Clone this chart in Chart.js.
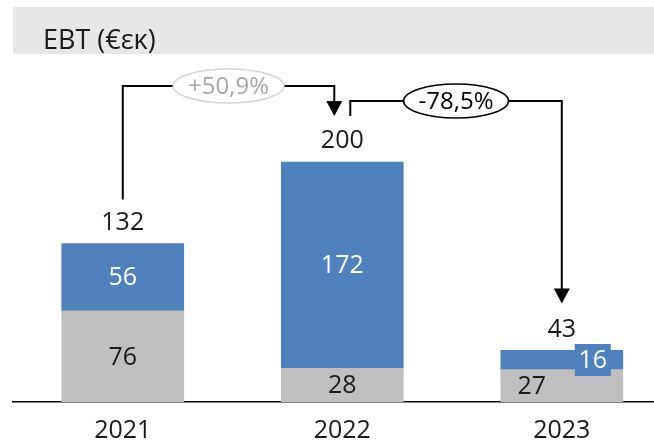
<!DOCTYPE html>
<html>
<head>
<meta charset="utf-8">
<script src="https://cdn.jsdelivr.net/npm/chart.js@4.4.1/dist/chart.umd.min.js"></script>
<style>
  html, body { margin: 0; padding: 0; background: #fff; overflow: hidden; }
  #wrap { width: 654px; height: 446px; }
</style>
</head>
<body>
<div id="wrap"><canvas id="ebtChart"></canvas></div>
<script>
// data
const years = ['2021', '2022', '2023'];
const baseValues = [76, 28, 27];
const topValues = [56, 172, 16];
const changeLabels = ['+50,9%', '-78,5%'];
const titleText = 'EBT (€εκ)';

const GRAY = '#bfbfbf';
const BLUE = '#4f81bd';
const INK = '#1a1a1a';
const FONT = "'Open Sans', 'Noto Sans', sans-serif";

Chart.defaults.font.family = FONT;

const totals = years.map((_, i) => baseValues[i] + topValues[i]);

// small helpers for the drawn annotations
function text(ctx, str, x, y, color, size) {
    ctx.fillStyle = color;
    ctx.font = size + 'px ' + FONT;
    ctx.textAlign = 'center';
    ctx.textBaseline = 'middle';
    ctx.fillText(str, x, y);
}

function arrow(ctx, pts) {
    const last = pts[pts.length - 1];
    ctx.save();
    ctx.strokeStyle = '#000';
    ctx.lineWidth = 2;
    ctx.beginPath();
    ctx.moveTo(pts[0][0], pts[0][1]);
    for (let i = 1; i < pts.length - 1; i++) ctx.lineTo(pts[i][0], pts[i][1]);
    ctx.lineTo(last[0], last[1] - 13);
    ctx.stroke();
    ctx.fillStyle = '#000';
    ctx.beginPath();
    ctx.moveTo(last[0], last[1]);
    ctx.lineTo(last[0] - 8, last[1] - 15);
    ctx.lineTo(last[0] + 8, last[1] - 15);
    ctx.closePath();
    ctx.fill();
    ctx.restore();
}

function oval(ctx, str, x, y, stroke, color) {
    ctx.save();
    ctx.font = '24px ' + FONT;
    const rx = ctx.measureText(str).width / 2 + 15;
    ctx.beginPath();
    ctx.ellipse(x, y, rx, 17, 0, 0, Math.PI * 2);
    ctx.fillStyle = '#fff';
    ctx.fill();
    ctx.lineWidth = 1.5;
    ctx.strokeStyle = stroke;
    ctx.stroke();
    text(ctx, str, x, y + 1, color, 24);
    ctx.restore();
}

const decorations = {
    id: 'decorations',
    beforeDraw(chart) {
        const ctx = chart.ctx;
        const area = chart.chartArea;
        ctx.save();
        ctx.fillStyle = '#e7e7e8';
        ctx.fillRect(area.left, 7, area.right - area.left, 47);
        ctx.fillStyle = INK;
        ctx.font = '27px ' + FONT;
        ctx.textAlign = 'left';
        ctx.textBaseline = 'middle';
        ctx.fillText(titleText, 43, 41);
        ctx.restore();
    },
    afterDatasetsDraw(chart) {
        const ctx = chart.ctx;
        const base = chart.getDatasetMeta(0).data;
        const top = chart.getDatasetMeta(1).data;
        ctx.save();

        years.forEach((_, i) => {
            const b = base[i], t = top[i];
            const last = i === years.length - 1;
            // small stack: gray label pushed left, blue label boxed on the right
            const bx = last ? b.x - 30 : b.x;
            const tx = last ? t.x + 31 : t.x;
            const by = (b.y + b.base) / 2;
            const ty = (t.y + t.base) / 2;
            if (last) {
                ctx.fillStyle = BLUE;
                ctx.fillRect(tx - 18, ty - 16, 36, 32);
            }
            text(ctx, String(baseValues[i]), bx, by + 1, INK, 25);
            text(ctx, String(topValues[i]), tx, ty + 1, '#fff', 25);
            text(ctx, String(totals[i]), t.x, t.y - 21, INK, 25);
        });

        // change arrows between years
        const tip1 = top[1].y - 46;
        const lvl1 = tip1 - 30;
        const lvl2 = tip1 - 15;
        const xa = top[0].x, xb1 = top[1].x - 8, xb2 = top[1].x + 8, xc = top[2].x;
        arrow(ctx, [[xa, top[0].y - 44], [xa, lvl1], [xb1, lvl1], [xb1, tip1]]);
        arrow(ctx, [[xb2, tip1], [xb2, lvl2], [xc, lvl2], [xc, top[2].y - 47]]);
        oval(ctx, changeLabels[0], (xa + xb1) / 2, lvl1, '#d4d4d4', '#a6a6a6');
        oval(ctx, changeLabels[1], (xb2 + xc) / 2, lvl2, '#000', '#000');

        ctx.restore();
    }
};

new Chart(document.getElementById('ebtChart'), {
    type: 'bar',
    data: {
        datasets: [
            {
                label: 'base',
                data: years.map((_, i) => ({ x: i, y: baseValues[i] })),
                backgroundColor: GRAY,
                barThickness: 122
            },
            {
                label: 'top',
                data: years.map((_, i) => ({ x: i, y: topValues[i] })),
                backgroundColor: BLUE,
                barThickness: 122
            }
        ]
    },
    options: {
        responsive: true,
        maintainAspectRatio: false,
        animation: false,
        layout: { padding: { left: 13, right: 0, top: 54, bottom: 0 } },
        plugins: {
            legend: { display: false },
            tooltip: { enabled: false },
            title: { display: false }
        },
        scales: {
            x: {
                type: 'linear',
                stacked: true,
                offset: false,
                min: -0.5,
                max: 2.42,
                afterBuildTicks: (scale) => {
                    scale.ticks = years.map((_, i) => ({ value: i }));
                },
                afterFit: (scale) => { scale.height = 44; },
                grid: { display: false, offset: false, drawTicks: false },
                border: { display: true, color: '#000', width: 1.5 },
                ticks: {
                    autoSkip: false,
                    maxRotation: 0,
                    padding: 14,
                    color: INK,
                    font: { size: 25 },
                    callback: (v) => years[v]
                }
            },
            y: {
                stacked: true,
                display: false,
                min: 0,
                max: 290
            }
        }
    },
    plugins: [decorations]
});
</script>
</body>
</html>
